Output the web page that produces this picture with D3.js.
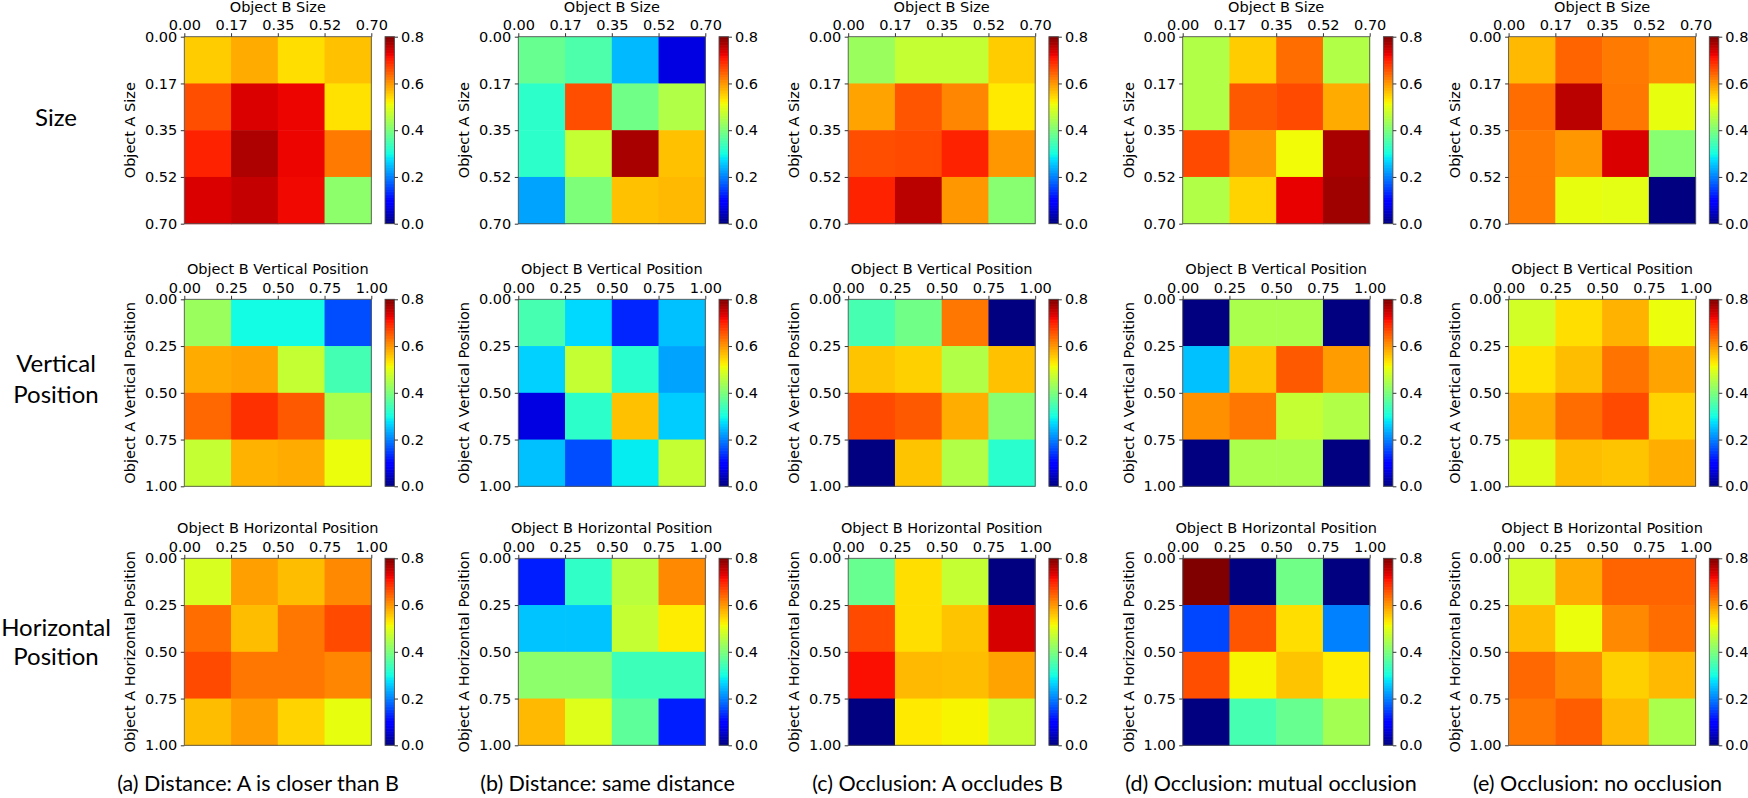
<!DOCTYPE html>
<html>
<head>
<meta charset="utf-8">
<script src="https://cdn.jsdelivr.net/npm/d3@7"></script>
<style>
  html, body { margin: 0; padding: 0; background: #fff; }
  svg { display: block; }
  .tick text { font-family: "DejaVu Sans", sans-serif; font-size: 14.5px; fill: #000; }
</style>
</head>
<body>
<svg id="chart" width="1748" height="798"></svg>
<script>
// ---------- DATA ----------
const rowTitles = [["Size"], ["Vertical", "Position"], ["Horizontal", "Position"]];
const xAxisTitles = ["Object B Size", "Object B Vertical Position", "Object B Horizontal Position"];
const yAxisTitles = ["Object A Size", "Object A Vertical Position", "Object A Horizontal Position"];
const sizeTicks = ["0.00", "0.17", "0.35", "0.52", "0.70"];
const posTicks = ["0.00", "0.25", "0.50", "0.75", "1.00"];
const cbarTicks = [0.0, 0.2, 0.4, 0.6, 0.8];
const captions = [
  "(a) Distance: A is closer than B",
  "(b) Distance: same distance",
  "(c) Occlusion: A occludes B",
  "(d) Occlusion: mutual occlusion",
  "(e) Occlusion: no occlusion"
];

// Size row (rows = Object A, cols = Object B)
const size_a = [[0.555, 0.584, 0.538, 0.564], [0.660, 0.737, 0.722, 0.535], [0.700, 0.767, 0.722, 0.622], [0.737, 0.750, 0.720, 0.416]];
const size_b = [[0.380, 0.354, 0.246, 0.070], [0.324, 0.660, 0.390, 0.450], [0.324, 0.470, 0.770, 0.564], [0.230, 0.400, 0.564, 0.571]];
const size_c = [[0.430, 0.470, 0.470, 0.555], [0.588, 0.656, 0.614, 0.530], [0.660, 0.664, 0.700, 0.600], [0.700, 0.758, 0.600, 0.410]];
const size_d = [[0.450, 0.555, 0.635, 0.450], [0.450, 0.652, 0.663, 0.584], [0.663, 0.600, 0.513, 0.770], [0.450, 0.547, 0.727, 0.775]];
const size_e = [[0.571, 0.643, 0.622, 0.605], [0.635, 0.758, 0.626, 0.505], [0.624, 0.600, 0.737, 0.410], [0.624, 0.505, 0.500, 0.000]];

// Vertical position row
const vert_a = [[0.430, 0.300, 0.300, 0.162], [0.584, 0.588, 0.470, 0.344], [0.640, 0.686, 0.652, 0.445], [0.470, 0.577, 0.584, 0.509]];
const vert_b = [[0.350, 0.270, 0.130, 0.250], [0.265, 0.470, 0.320, 0.230], [0.070, 0.324, 0.564, 0.260], [0.250, 0.162, 0.285, 0.470]];
const vert_c = [[0.350, 0.390, 0.626, 0.000], [0.560, 0.550, 0.450, 0.564], [0.663, 0.652, 0.580, 0.410], [0.000, 0.560, 0.450, 0.320]];
const vert_d = [[0.000, 0.445, 0.445, 0.000], [0.250, 0.560, 0.652, 0.596], [0.605, 0.626, 0.470, 0.450], [0.000, 0.445, 0.445, 0.000]];
const vert_e = [[0.484, 0.540, 0.577, 0.509], [0.535, 0.567, 0.630, 0.588], [0.584, 0.635, 0.663, 0.547], [0.494, 0.567, 0.560, 0.580]];

// Horizontal position row
const horz_a = [[0.490, 0.592, 0.567, 0.610], [0.635, 0.567, 0.626, 0.663], [0.663, 0.626, 0.626, 0.614], [0.567, 0.596, 0.547, 0.505]];
const horz_b = [[0.124, 0.325, 0.460, 0.610], [0.256, 0.256, 0.470, 0.525], [0.416, 0.416, 0.340, 0.340], [0.571, 0.494, 0.370, 0.124]];
const horz_c = [[0.380, 0.540, 0.470, 0.000], [0.663, 0.538, 0.560, 0.740], [0.715, 0.571, 0.567, 0.588], [0.000, 0.530, 0.520, 0.470]];
const horz_d = [[0.800, 0.000, 0.390, 0.000], [0.155, 0.656, 0.538, 0.200], [0.660, 0.520, 0.560, 0.525], [0.000, 0.350, 0.380, 0.440]];
const horz_e = [[0.484, 0.584, 0.643, 0.643], [0.567, 0.509, 0.610, 0.635], [0.640, 0.610, 0.550, 0.571], [0.626, 0.648, 0.571, 0.445]];

const grid = [
  [size_a, size_b, size_c, size_d, size_e],
  [vert_a, vert_b, vert_c, vert_d, vert_e],
  [horz_a, horz_b, horz_c, horz_d, horz_e]
];
const rowTicks = [sizeTicks, posTicks, posTicks];

// ---------- LAYOUT ----------
const panelX = [184.3, 518.3, 848.2, 1182.7, 1508.6];
const rowY = [36.7, 299.3, 558.3];
const S = 187;           // heatmap side
const cbGap = 13.7, cbW = 9.5;
const rowLabelX = 56;
const rowLabelY = [[116], [362, 393], [626, 655]];
const captionX = [258, 607.5, 937.5, 1271, 1597.5];
const captionY = 791;
const vmax = 0.8;

// ---------- JET COLORMAP (matplotlib segment data) ----------
const jr = d3.scaleLinear().domain([0, 0.35, 0.66, 0.89, 1]).range([0, 0, 1, 1, 0.5]).clamp(true);
const jg = d3.scaleLinear().domain([0, 0.125, 0.375, 0.64, 0.91, 1]).range([0, 0, 1, 1, 0, 0]).clamp(true);
const jb = d3.scaleLinear().domain([0, 0.11, 0.34, 0.65, 1]).range([0.5, 1, 1, 0, 0]).clamp(true);
const norm = d3.scaleLinear().domain([0, vmax]).range([0, 1]).clamp(true);
function jet(v) {
  const t = Math.min(255, Math.floor(norm(v) * 256)) / 255; // 256-level LUT like matplotlib
  return d3.rgb(Math.round(jr(t) * 255), Math.round(jg(t) * 255), Math.round(jb(t) * 255)).toString();
}

const svg = d3.select("#chart");
svg.append("rect").attr("width", 1748).attr("height", 798).attr("fill", "#fff");

const spine = "#555";

grid.forEach((row, ri) => {
  row.forEach((mat, ci) => {
    const g = svg.append("g").attr("transform", `translate(${panelX[ci]},${rowY[ri]})`);
    const band = d3.scaleBand().domain(d3.range(4)).range([0, S]);
    const tickScale = d3.scalePoint().domain(rowTicks[ri]).range([0, S]);

    // cells
    const cells = mat.flatMap((r, i) => r.map((v, j) => ({ i, j, v })));
    g.selectAll("rect.cell").data(cells).join("rect")
      .attr("class", "cell")
      .attr("x", d => band(d.j))
      .attr("y", d => band(d.i))
      .attr("width", band.bandwidth() + 0.5)
      .attr("height", band.bandwidth() + 0.5)
      .attr("fill", d => jet(d.v));

    // frame
    g.append("rect").attr("width", S).attr("height", S)
      .attr("fill", "none").attr("stroke", spine).attr("stroke-width", 0.9);

    // top axis
    const xa = g.append("g").call(d3.axisTop(tickScale).tickSize(3.5).tickPadding(3));
    xa.select(".domain").remove();
    xa.selectAll(".tick line").attr("stroke", "#333");
    // left axis
    const ya = g.append("g").call(d3.axisLeft(tickScale).tickSize(3.5).tickPadding(3.5));
    ya.select(".domain").remove();
    ya.selectAll(".tick line").attr("stroke", "#333");

    // axis titles
    g.append("text").attr("x", S / 2).attr("y", -25)
      .attr("text-anchor", "middle")
      .style("font-family", "DejaVu Sans, sans-serif").style("font-size", "14.5px")
      .text(xAxisTitles[ri]);
    g.append("text")
      .attr("transform", `translate(${-54},${S / 2}) rotate(-90)`)
      .attr("text-anchor", "middle").attr("dominant-baseline", "central")
      .style("font-family", "DejaVu Sans, sans-serif").style("font-size", "14.5px")
      .text(yAxisTitles[ri]);

    // colorbar
    const cb = g.append("g").attr("transform", `translate(${S + cbGap},0)`);
    const cy = d3.scaleLinear().domain([0, vmax]).range([S, 0]);
    const steps = d3.range(0, 256).map(k => (k + 0.5) / 256 * vmax);
    const stepH = S / 256;
    cb.selectAll("rect.cs").data(steps).join("rect")
      .attr("class", "cs")
      .attr("x", 0).attr("width", cbW)
      .attr("y", d => cy(d) - stepH / 2 - 0.3)
      .attr("height", stepH + 0.6)
      .attr("fill", d => jet(d));
    cb.append("rect").attr("width", cbW).attr("height", S)
      .attr("fill", "none").attr("stroke", spine).attr("stroke-width", 0.9);
    const ca = cb.append("g").attr("transform", `translate(${cbW},0)`)
      .call(d3.axisRight(cy).tickValues(cbarTicks).tickFormat(d3.format(".1f")).tickSize(3.5).tickPadding(3));
    ca.select(".domain").remove();
    ca.selectAll(".tick line").attr("stroke", "#333");
  });

  // row label
  rowTitles[ri].forEach((t, k) => {
    svg.append("text").attr("x", rowLabelX).attr("y", rowLabelY[ri][k])
      .attr("text-anchor", "middle").attr("dominant-baseline", "central")
      .style("font-family", "Lato, 'Open Sans', sans-serif").style("font-size", "24px")
      .text(t);
  });
});

// captions
captions.forEach((c, i) => {
  svg.append("text").attr("x", captionX[i]).attr("y", captionY)
    .attr("text-anchor", "middle")
    .style("font-family", "Lato, 'Open Sans', sans-serif").style("font-size", "21.5px")
    .text(c);
});
</script>
</body>
</html>
